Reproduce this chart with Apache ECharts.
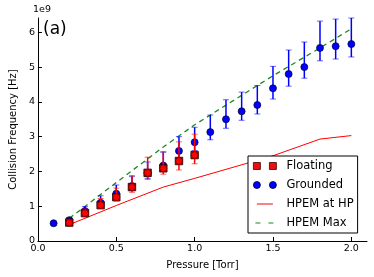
<!DOCTYPE html>
<html><head><meta charset="utf-8">
<script src="https://cdn.jsdelivr.net/npm/echarts@6/dist/echarts.min.js"></script>
<style>html,body{margin:0;padding:0;background:#fff}#c{width:374px;height:277px}</style>
</head><body><div id="c"></div>
<script>
const xTicks = [0, 0.5, 1.0, 1.5, 2.0];
const yTicks = [0, 1, 2, 3, 4, 5, 6];
const yExponent = '1e9';
const panelLabel = '(a)';

// Grounded (values in units of 1e9 Hz)
const groundedX  = [0.1, 0.2, 0.3, 0.4, 0.5, 0.6, 0.7, 0.8, 0.9, 1.0, 1.1, 1.2, 1.3, 1.4, 1.5, 1.6, 1.7, 1.8, 1.9, 2.0];
const groundedY  = [0.51, 0.60, 0.86, 1.10, 1.36, 1.58, 1.95, 2.17, 2.59, 2.84, 3.13, 3.50, 3.73, 3.91, 4.39, 4.80, 5.00, 5.55, 5.60, 5.66];
const groundedLo = [0.49, 0.56, 0.80, 1.02, 1.26, 1.46, 1.80, 2.00, 2.38, 2.60, 2.91, 3.24, 3.47, 3.65, 4.08, 4.45, 4.68, 5.18, 5.23, 5.29];
const groundedHi = [0.53, 0.66, 0.99, 1.30, 1.61, 1.85, 2.27, 2.55, 3.00, 3.27, 3.62, 4.06, 4.28, 4.47, 5.02, 5.49, 5.72, 6.32, 6.38, 6.41];

// Floating
const floatingX  = [0.2, 0.3, 0.4, 0.5, 0.6, 0.7, 0.8, 0.9, 1.0];
const floatingY  = [0.53, 0.80, 1.03, 1.26, 1.55, 1.96, 2.09, 2.30, 2.47];
const floatingLo = [0.50, 0.74, 0.95, 1.15, 1.40, 1.77, 1.92, 2.04, 2.22];
const floatingHi = [0.57, 0.92, 1.22, 1.52, 1.88, 2.41, 2.57, 2.85, 3.07];

// HPEM simulations
const hpemX   = [0.2, 0.5, 0.8, 1.0, 1.5, 1.8, 2.0];
const hpemHP  = [0.47, 1.02, 1.55, 1.80, 2.45, 2.93, 3.03];
const hpemMax = [0.65, 1.68, 2.70, 3.34, 4.75, 5.55, 6.10];

const FONT = 'DejaVu Sans';
const pairs = (xs, ys) => xs.map((x, i) => [x, ys[i]]);

function errSeries(name, xs, lo, hi, color, z) {
  return {
    type: 'custom', name: name, z: z, silent: true,
    data: xs.map((x, i) => [x, lo[i], hi[i]]),
    encode: { x: 0, y: [1, 2] },
    renderItem: function (params, api) {
      const x = api.value(0);
      const a = api.coord([x, api.value(1)]);
      const b = api.coord([x, api.value(2)]);
      const hw = 3;
      return { type: 'group', children: [
        { type: 'line', shape: { x1: a[0], y1: a[1], x2: b[0], y2: b[1] }, style: { stroke: color, lineWidth: 1.5 } },
        { type: 'line', shape: { x1: a[0] - hw, y1: a[1], x2: a[0] + hw, y2: a[1] }, style: { stroke: color, lineWidth: 1, opacity: 0.6 } },
        { type: 'line', shape: { x1: b[0] - hw, y1: b[1], x2: b[0] + hw, y2: b[1] }, style: { stroke: color, lineWidth: 1, opacity: 0.6 } }
      ]};
    }
  };
}

const chart = echarts.init(document.getElementById('c'), null, { renderer: 'canvas' });
const axisCommon = {
  axisLine: { show: true, lineStyle: { color: '#000', width: 1 } },
  splitLine: { show: false },
  nameTextStyle: { fontFamily: FONT, fontSize: 10, color: '#000' }
};
chart.setOption({
  animation: false,
  backgroundColor: '#fff',
  grid: { left: 33, right: 7, top: 18, bottom: 36 },
  xAxis: Object.assign({}, axisCommon, {
    type: 'value', min: 0, max: 2.1, interval: 0.5,
    name: 'Pressure [Torr]', nameLocation: 'middle', nameGap: 19,
    axisTick: { show: true, inside: true, length: 4, lineStyle: { color: '#000' }, customValues: xTicks },
    axisLabel: { fontFamily: FONT, fontSize: 9.5, color: '#000', margin: 3, showMinLabel: true, showMaxLabel: true,
      hideOverlap: false, customValues: xTicks, formatter: v => Number(v).toFixed(1) }
  }),
  yAxis: Object.assign({}, axisCommon, {
    type: 'value', min: 0, max: 6.41, interval: 1,
    name: 'Collision Frequency [Hz]', nameLocation: 'middle', nameGap: 17, nameRotate: 90,
    axisTick: { show: true, inside: true, length: 4, lineStyle: { color: '#000' }, customValues: yTicks },
    axisLabel: { fontFamily: FONT, fontSize: 9.5, color: '#000', margin: 3, showMinLabel: true, showMaxLabel: true,
      hideOverlap: false, customValues: yTicks, formatter: v => String(Math.round(v)) }
  }),
  legend: {
    orient: 'vertical', left: 248, top: 156,
    backgroundColor: '#fff', borderColor: '#000', borderWidth: 1, borderRadius: 0,
    padding: [3, 4, 3, 5], itemGap: 5, itemWidth: 28, itemHeight: 7,
    textStyle: { fontFamily: FONT, fontSize: 11.5, color: '#000', lineHeight: 14 },
    data: [
      { name: 'Floating', icon: 'path://M0,0h7v7h-7zM16,0h7v7h-7zM28,7',
        itemStyle: { color: '#e81010', borderColor: '#400', borderWidth: 0.8 } },
      { name: 'Grounded', icon: 'path://M0,3.5a3.5,3.5 0 1,0 7,0a3.5,3.5 0 1,0 -7,0zM16,3.5a3.5,3.5 0 1,0 7,0a3.5,3.5 0 1,0 -7,0zM28,7M0,0',
        itemStyle: { color: '#0000ff', borderColor: '#002', borderWidth: 0.8 } },
      { name: 'HPEM at HP', icon: 'path://M0,0M28,7M3.5,3h16v1h-16z',
        itemStyle: { color: '#ff0000', borderWidth: 0 } },
      { name: 'HPEM Max', icon: 'path://M0,0M28,7M2,3h5v1h-5zM15,3h5v1h-5z',
        itemStyle: { color: '#1a8a1a', borderWidth: 0 } }
    ]
  },
  graphic: [
    { type: 'text', left: 33, top: 5, style: { text: yExponent, fontFamily: FONT, fontSize: 9.5, fill: '#000' } },
    { type: 'text', left: 43, top: 21, style: { text: panelLabel, fontFamily: FONT, fontSize: 17, fill: '#000' } }
  ],
  series: [
    { type: 'line', name: 'HPEM at HP', data: pairs(hpemX, hpemHP), symbol: 'none', z: 1,
      lineStyle: { color: '#ff0000', width: 1 }, itemStyle: { color: '#ff0000' } },
    { type: 'line', name: 'HPEM Max', data: pairs(hpemX, hpemMax), symbol: 'none', z: 1,
      lineStyle: { color: '#1a8a1a', width: 1.3, type: [5, 4] }, itemStyle: { color: '#1a8a1a' } },
    errSeries('gErr', groundedX, groundedLo, groundedHi, '#0000ff', 2),
    { type: 'scatter', name: 'Grounded', data: pairs(groundedX, groundedY), symbol: 'circle', symbolSize: 7, z: 3,
      itemStyle: { color: '#0000ff', borderColor: '#000033', borderWidth: 0.7, opacity: 1 } },
    { type: 'scatter', name: 'Floating', data: pairs(floatingX, floatingY), symbol: 'rect', symbolSize: 7.5, z: 4,
      itemStyle: { color: '#9a2020', borderColor: '#220000', borderWidth: 0.8, opacity: 1 } },
    errSeries('fErr', floatingX, floatingLo, floatingHi, '#ff0000', 5),
    { type: 'scatter', name: 'FloatingPts', data: pairs(floatingX, floatingY), symbol: 'circle', symbolSize: 7, z: 6,
      itemStyle: { color: '#ff0000', borderColor: '#550000', borderWidth: 0.7, opacity: 1 } }
  ]
});
</script>
</body></html>
